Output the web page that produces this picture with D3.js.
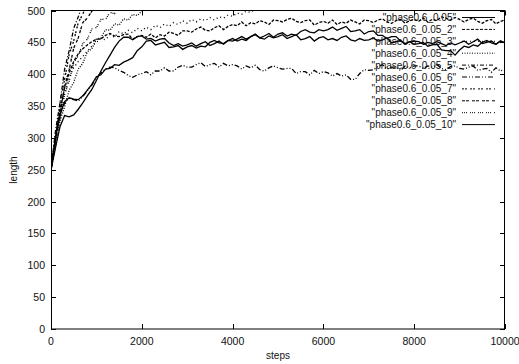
<!DOCTYPE html>
<html><head><meta charset="utf-8">
<script src="https://cdn.jsdelivr.net/npm/d3@7/dist/d3.min.js"></script>
<style>body{margin:0;background:#fff}svg{display:block}text{font-family:"Liberation Sans",Arial,sans-serif}</style>
</head><body><div id="chart"></div>
<script>
const seriesNames = ['"phase0.6_0.05"','"phase0.6_0.05_2"','"phase0.6_0.05_3"','"phase0.6_0.05_4"','"phase0.6_0.05_5"','"phase0.6_0.05_6"','"phase0.6_0.05_7"','"phase0.6_0.05_8"','"phase0.6_0.05_9"','"phase0.6_0.05_10"'];
const xTicks = [0,2000,4000,6000,8000,10000];
const yTicks = [0,50,100,150,200,250,300,350,400,450,500];
const stepSize = 100;
// values sampled every 100 steps, starting at step 0
const s1 = [250,302,338,357,363,361,360,366,375,384,396,399,408,409,415,414,419,422,426,437,443,
  452,453,446,448,450,442,443,445,439,443,445,441,444,443,450,453,449,448,453,452,
  455,459,455,459,463,457,460,464,458,463,465,460,463,461,467,470,466,465,470,468,
  470,474,469,472,475,467,468,470,463,467,468,461,461,456,459,459,452,448,451,447,
  448,450,444,446,447,438,437,437,430,438,444,442,446,444,450,453,449,447,452,449];
const s2 = [250,305,345,378,402,420,432,440,446,451,455,
  455,461,464,460,459,462,463,455,459,461,458,463,457,462,460,466,464,461,468,468,
  466,471,474,469,468,473,476,470,475,478,476,482,476,481,479,484,482,478,485,484,
  482,486,488,483,481,484,485,477,481,483,480,485,478,482,480,485,482,479,485,484,
  481,485,487,482,480,484,486,480,484,486,483,488,482,486,484,490,488,485,489,486,
  482,486,488,483,480,484,486,479,483,485];
const s3 = [250,303,342,372,395,410,420,428,436,444,450,456,454,462,458,467,463,469,465,472,468,474,470,477,473,479,475,481,478,484,480,486,482,487,484,489,485,490,488,493,491,496,494,499,497,503,508];
const s4 = [250,286,327,349,375,387,408,417,435,440,455,457,470,469,479,477,487,485,494,492,499,505];
const s5 = [250,312,356,408,437,472,490,510];
const s6 = [250,300,335,355,362,360,358,365,374,383,395,402,408,411,410,406,403,398,395,399,401,
  404,399,405,405,410,405,405,411,414,411,411,415,418,412,415,417,411,417,413,415,
  413,408,413,410,414,407,405,410,413,410,408,409,409,401,404,404,399,406,401,404,
  402,397,401,397,399,392,392,401,407,406,407,412,415,408,411,411,406,413,410,413,
  413,409,413,411,415,409,407,412,413,409,408,411,413,406,408,409,403,410,405,408];
const s7 = [250,298,355,392,431,452,481,494,513];
const s8 = [250,297,337,381,407,441,457,481,488,499,506];
const s9 = [250,294,330,368,389,418,429,448,455,471,473,486,486,497,495,506];
const s10 = [250,285,318,335,333,336,345,355,366,376,390,405,418,430,442,452,458,
  458,454,459,460,455,456,452,455,456,449,445,448,444,446,449,444,448,451,445,448,
  452,447,453,456,452,455,453,459,462,457,455,460,457,459,462,456,459,462,454,456,
  459,452,457,459,454,456,453,458,460,454,452,456,453,454,457,452,454,457,449,451,
  453,447,451,452,451,447,450,448,451,448,445,449,446,449,452,447,451,455,448,450,
  452,447,452,449];
const seriesValues = [s1,s2,s3,s4,s5,s6,s7,s8,s9,s10];

const dashes = [null,"3,1.5","1,3","1,1.5","4,2,1,2","5,2,1,2,1,2","2,1,2,3","3,1,3,3","1,1,1,1,1,3",null];

const W=519,H=364;
const L=51,R=505,T=10.5,B=329;
const svg=d3.select("#chart").append("svg").attr("width",W).attr("height",H);
const x=d3.scaleLinear().domain([0,10000]).range([L,R]);
const y=d3.scaleLinear().domain([0,500]).range([B,T]);

svg.append("defs").append("clipPath").attr("id","clip").append("rect")
  .attr("x",L).attr("y",T).attr("width",R-L).attr("height",B-T);

const ax=svg.append("g").attr("stroke","#000").attr("stroke-width",1);
const tl=5;
xTicks.forEach(v=>{
  const px=Math.round(x(v))+0.5;
  ax.append("line").attr("x1",px).attr("x2",px).attr("y1",B).attr("y2",B-tl);
  ax.append("line").attr("x1",px).attr("x2",px).attr("y1",T).attr("y2",T+tl);
});
yTicks.forEach(v=>{
  const py=Math.round(y(v))+0.5;
  ax.append("line").attr("x1",L).attr("x2",L+tl).attr("y1",py).attr("y2",py);
  ax.append("line").attr("x1",R).attr("x2",R-tl).attr("y1",py).attr("y2",py);
});

const lab=svg.append("g").attr("font-size","10.5px").attr("fill","#111");
xTicks.forEach(v=>{
  lab.append("text").attr("x",x(v)).attr("y",345).attr("text-anchor","middle").text(v);
});
yTicks.forEach(v=>{
  lab.append("text").attr("x",45).attr("y",y(v)+4).attr("text-anchor","end").text(v);
});
lab.append("text").attr("x",278).attr("y",359).attr("text-anchor","middle").attr("font-size","10px").text("steps");
lab.append("text").attr("transform","translate(17,170) rotate(-90)").attr("text-anchor","middle").attr("font-size","10px").text("length");

const line=d3.line().x((d,i)=>x(i*stepSize)).y(d=>y(d));
const g=svg.append("g").attr("clip-path","url(#clip)");
seriesValues.forEach((vals,i)=>{
  g.append("path").datum(vals).attr("d",line).attr("fill","none")
   .attr("stroke","#000").attr("stroke-width",1.3)
   .attr("stroke-dasharray",dashes[i]);
});

const lg=svg.append("g").attr("font-size","10px").attr("fill","#111");
seriesNames.forEach((n,i)=>{
  const ry=17.5+i*11.9;
  lg.append("text").attr("x",456).attr("y",ry+3.5).attr("text-anchor","end").text(n);
  lg.append("line").attr("x1",462).attr("x2",495).attr("y1",ry).attr("y2",ry)
    .attr("stroke","#000").attr("stroke-width",1).attr("stroke-dasharray",dashes[i]);
});

svg.append("rect").attr("x",L+0.5).attr("y",T).attr("width",R-L-1).attr("height",B-T)
  .attr("fill","none").attr("stroke","#000").attr("stroke-width",1);
</script></body></html>
